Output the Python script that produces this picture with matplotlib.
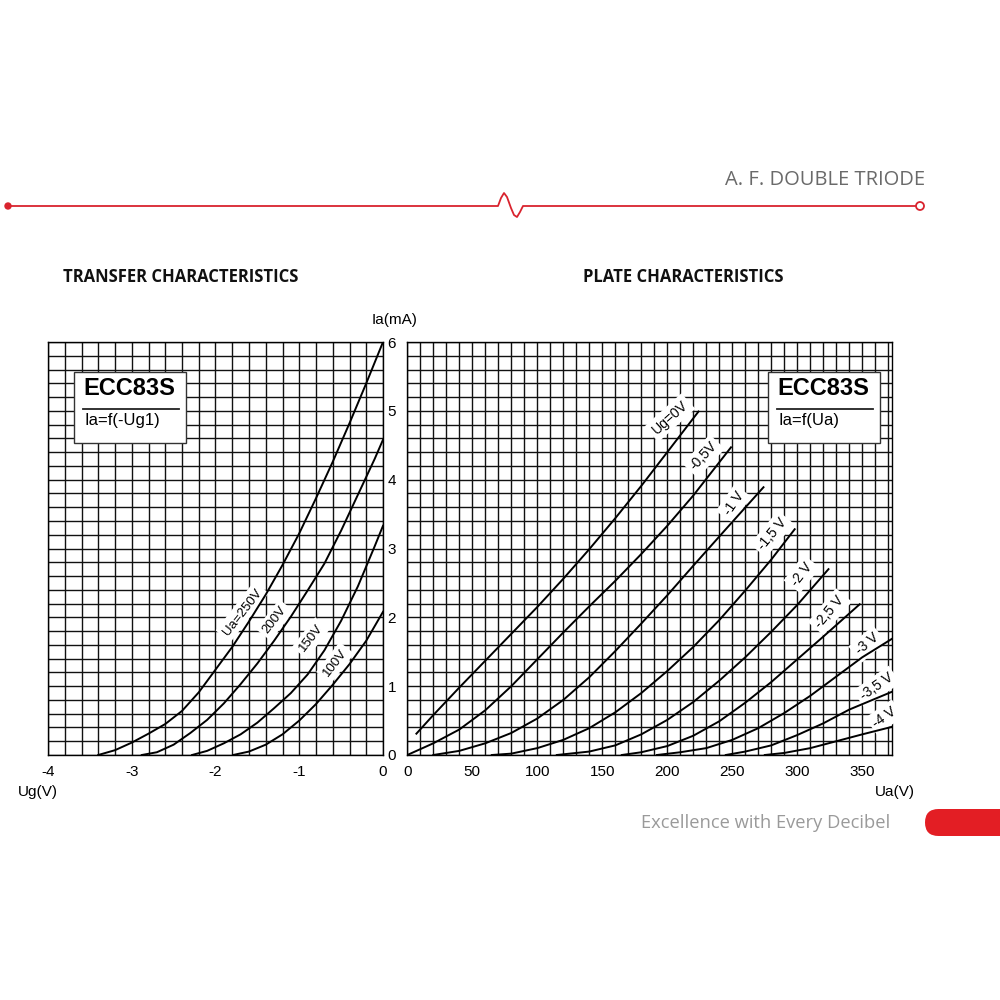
import numpy as np
import matplotlib.pyplot as plt
from matplotlib.patches import Rectangle, FancyBboxPatch, Circle
from matplotlib.lines import Line2D

plt.rcParams['font.family'] = ['Liberation Sans', 'DejaVu Sans']

# transfer characteristics Ia = f(Ug) for several plate voltages
ua_labels = ['Ua=250V', '200V', '150V', '100V']
ug_250 = [-3.40, -3.2, -3.0, -2.8, -2.6, -2.4, -2.2, -2.0, -1.8, -1.6, -1.4, -1.2,
          -1.0, -0.8, -0.6, -0.4, -0.2, 0.0]
ia_250 = [0.0, 0.07, 0.18, 0.31, 0.45, 0.64, 0.91, 1.24, 1.57, 1.94, 2.33, 2.76,
          3.22, 3.73, 4.26, 4.82, 5.40, 6.0]
ug_200 = [-2.88, -2.7, -2.5, -2.3, -2.1, -1.9, -1.7, -1.5, -1.3, -1.1, -0.9, -0.7,
          -0.5, -0.3, -0.1, 0.0]
ia_200 = [0.0, 0.04, 0.15, 0.32, 0.51, 0.75, 1.03, 1.33, 1.66, 2.01, 2.39, 2.78,
          3.26, 3.78, 4.30, 4.58]
ug_150 = [-2.28, -2.1, -1.9, -1.7, -1.5, -1.3, -1.1, -0.9, -0.7, -0.5, -0.3, -0.1, 0.0]
ia_150 = [0.0, 0.06, 0.17, 0.30, 0.47, 0.68, 0.90, 1.17, 1.52, 1.95, 2.45, 3.03, 3.33]
ug_100 = [-1.79, -1.6, -1.4, -1.2, -1.0, -0.8, -0.6, -0.4, -0.2, 0.0]
ia_100 = [0.0, 0.05, 0.15, 0.30, 0.50, 0.74, 1.02, 1.32, 1.66, 2.08]
transfer = [(ug_250, ia_250), (ug_200, ia_200), (ug_150, ia_150), (ug_100, ia_100)]
ua_label_pos = [(-1.68, 2.08), (-1.29, 1.96), (-0.86, 1.70), (-0.57, 1.34)]

# plate characteristics Ia = f(Ua) for several grid voltages
ug_labels = ['Ug=0V', '-0,5V', '-1 V', '-1,5 V', '-2 V', '-2,5 V', '-3 V', '-3,5 V', '-4 V']
ua_0 = [7, 20, 40, 60, 80, 100, 120, 140, 160, 180, 200, 224]
ia_0 = [0.31, 0.58, 0.98, 1.37, 1.76, 2.15, 2.56, 2.99, 3.44, 3.91, 4.40, 4.99]
ua_05 = [0, 20, 40, 60, 80, 100, 120, 140, 160, 180, 200, 220, 249]
ia_05 = [0.0, 0.17, 0.37, 0.65, 1.00, 1.39, 1.78, 2.16, 2.53, 2.92, 3.33, 3.77, 4.47]
ua_1 = [20, 40, 60, 80, 100, 120, 140, 160, 180, 200, 220, 245, 274]
ia_1 = [0.0, 0.06, 0.17, 0.32, 0.53, 0.80, 1.13, 1.51, 1.91, 2.32, 2.75, 3.28, 3.89]
ua_15 = [65, 80, 100, 120, 140, 160, 180, 200, 220, 240, 260, 280, 298]
ia_15 = [0.0, 0.02, 0.10, 0.22, 0.39, 0.62, 0.90, 1.22, 1.57, 1.96, 2.39, 2.84, 3.28]
ua_2 = [115, 140, 160, 180, 200, 220, 240, 260, 280, 300, 324]
ia_2 = [0.0, 0.05, 0.14, 0.30, 0.51, 0.77, 1.08, 1.42, 1.79, 2.18, 2.70]
ua_25 = [165, 180, 200, 220, 240, 260, 280, 300, 320, 348]
ia_25 = [0.0, 0.04, 0.13, 0.28, 0.49, 0.76, 1.06, 1.39, 1.72, 2.19]
ua_3 = [192, 210, 230, 250, 270, 290, 310, 330, 350, 373]
ia_3 = [0.0, 0.04, 0.10, 0.22, 0.39, 0.61, 0.86, 1.14, 1.42, 1.69]
ua_35 = [245, 260, 280, 300, 320, 340, 373]
ia_35 = [0.0, 0.05, 0.14, 0.29, 0.46, 0.66, 0.92]
ua_4 = [275, 290, 310, 330, 350, 373]
ia_4 = [0.0, 0.03, 0.10, 0.20, 0.30, 0.41]
plate = [(ua_0, ia_0), (ua_05, ia_05), (ua_1, ia_1), (ua_15, ia_15), (ua_2, ia_2),
         (ua_25, ia_25), (ua_3, ia_3), (ua_35, ia_35), (ua_4, ia_4)]
ug_label_pos = [(202, 4.9), (228, 4.34), (251, 3.65), (280.5, 3.21), (303.5, 2.63),
                (325, 2.08), (354, 1.61), (361, 0.99), (367, 0.55)]
ug_label_rot = [42, 47, 55, 50, 52, 50, 40, 35, 35]

red = '#d9232e'
grid_kw = dict(color='#111111', linewidth=1.0)

fig = plt.figure(figsize=(10, 10), dpi=100)
ax1 = fig.add_axes([0.048, 0.245, 0.335, 0.413])
ax2 = fig.add_axes([0.4073, 0.245, 0.4849, 0.413])

# left chart
ax1.set_xlim(-4, 0)
ax1.set_ylim(0, 6)
ax1.set_xticks(np.arange(-4, 0.1, 1))
ax1.set_xticklabels(['-4', '-3', '-2', '-1', '0'])
ax1.set_xticks(np.arange(-4, 0.01, 0.2), minor=True)
ax1.set_yticks(np.arange(0, 6.01, 0.2), minor=True)
ax1.set_yticks(np.arange(0, 7, 1))
ax1.set_yticklabels([])
ax1.grid(which='both', **grid_kw)
for x, y in transfer:
    ax1.plot(x, y, color='black', lw=1.4, zorder=4)
for lab, (x, y) in zip(ua_labels, ua_label_pos):
    ax1.text(x, y, lab, rotation=52, ha='center', va='center', fontsize=9.5, zorder=3,
             rotation_mode='anchor',
             bbox=dict(facecolor='white', edgecolor='none', pad=2.5))

# right chart
ax2.set_xlim(0, 373)
ax2.set_ylim(0, 6)
ax2.set_xticks(np.arange(0, 351, 50))
ax2.set_xticks(np.arange(0, 371, 10), minor=True)
ax2.set_yticks(np.arange(0, 7, 1))
ax2.set_yticks(np.arange(0, 6.01, 0.2), minor=True)
ax2.grid(which='both', **grid_kw)
for x, y in plate:
    ax2.plot(x, y, color='black', lw=1.4, zorder=4)
for lab, (x, y), r in zip(ug_labels, ug_label_pos, ug_label_rot):
    ax2.text(x, y, lab, rotation=r, ha='center', va='center', fontsize=10, zorder=3,
             rotation_mode='anchor',
             bbox=dict(facecolor='white', edgecolor='none', pad=2.5))

for ax in (ax1, ax2):
    ax.tick_params(which='both', length=0, labelsize=11)
    ax.tick_params(axis='x', pad=7)
    ax.set_axisbelow(True)
    for s in ax.spines.values():
        s.set_linewidth(1.0)
ax2.tick_params(axis='y', pad=8)

# legend boxes
for ax, x0, x1, func in [(ax1, -3.69, -2.35, 'Ia=f(-Ug1)'), (ax2, 277.5, 363.6, 'Ia=f(Ua)')]:
    ax.add_patch(Rectangle((x0, 4.53), x1 - x0, 1.03, facecolor='white',
                           edgecolor='#333333', lw=1.0, zorder=5))
    w = x1 - x0
    ax.text(x0 + 0.08 * w, 5.32, 'ECC83S', fontsize=17, fontweight='bold',
            ha='left', va='center', zorder=6)
    ax.plot([x0 + 0.08 * w, x0 + 0.94 * w], [5.02, 5.02], color='#222222', lw=1.3, zorder=6)
    ax.text(x0 + 0.09 * w, 4.86, func, fontsize=12, ha='left', va='center', zorder=6)

# axis titles and texts
fig.text(0.395, 0.680, 'Ia(mA)', fontsize=11, ha='center', va='center')
fig.text(0.018, 0.208, 'Ug(V)', fontsize=11, ha='left', va='center')
fig.text(0.915, 0.208, 'Ua(V)', fontsize=11, ha='right', va='center')
fig.text(0.063, 0.723, 'TRANSFER CHARACTERISTICS', fontsize=12, fontweight='bold',
         family=['Open Sans', 'DejaVu Sans'], ha='left', va='center', color='#111111')
fig.text(0.583, 0.723, 'PLATE CHARACTERISTICS', fontsize=12, fontweight='bold',
         family=['Open Sans', 'DejaVu Sans'], ha='left', va='center', color='#111111')

# header
fig.text(0.925, 0.820, 'A. F. DOUBLE TRIODE', fontsize=14.5, color='#6a6a6a',
         family=['Open Sans', 'DejaVu Sans'], ha='right', va='center')
hx = np.array([8, 498, 501, 504, 507, 511, 514, 517, 520, 523, 915]) / 1000
hy = 1 - np.array([206, 206, 198, 193, 197, 208, 215, 217, 212, 206, 206]) / 1000
fig.add_artist(Line2D(hx, hy, color=red, lw=1.3))
fig.add_artist(Circle((0.008, 0.794), 0.003, color=red))
fig.add_artist(Circle((0.920, 0.794), 0.004, facecolor='white', edgecolor=red, lw=1.3))

# footer
fig.text(0.890, 0.177, 'Excellence with Every Decibel', fontsize=13.2, color='#9a9a9a',
         family=['Open Sans', 'DejaVu Sans'], ha='right', va='center')
fig.add_artist(FancyBboxPatch((0.925, 0.164), 0.1, 0.027,
                              boxstyle='round,pad=0,rounding_size=0.0135',
                              facecolor='#e31e24', edgecolor='none'))

fig.savefig('out.png', dpi=100)
